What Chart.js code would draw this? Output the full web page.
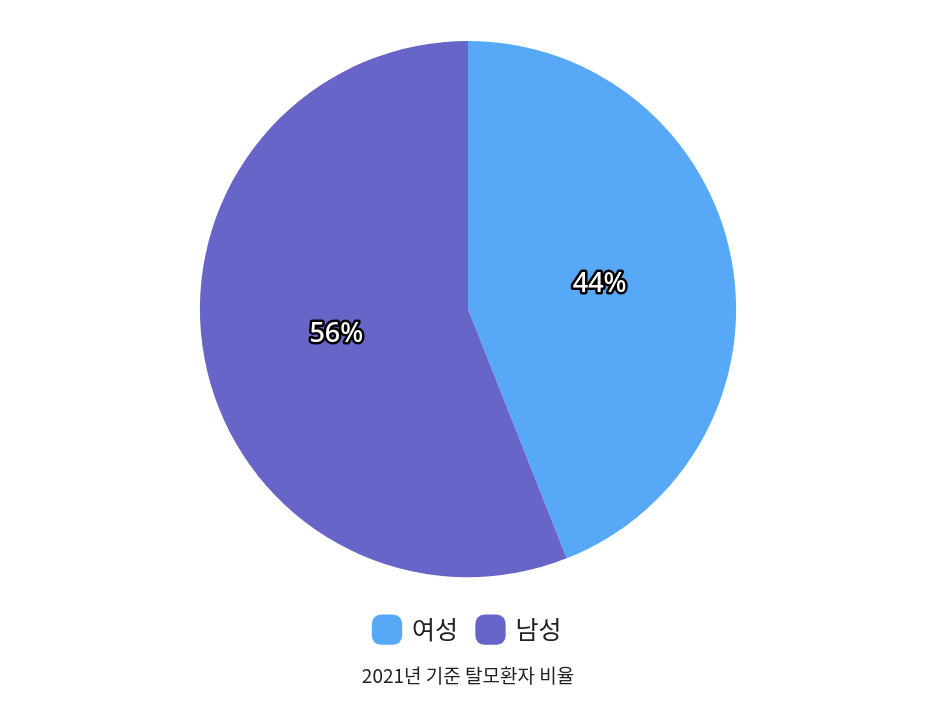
<!DOCTYPE html>
<html>
<head>
<meta charset="utf-8">
<script src="https://cdn.jsdelivr.net/npm/chart.js@4/dist/chart.umd.min.js"></script>
<style>
  html, body { margin: 0; padding: 0; background: #fff; }
  #wrap { width: 936px; height: 721px; }
</style>
</head>
<body>
<div id="wrap"><canvas id="hairChart"></canvas></div>
<script>
var labels = ['여성', '남성'];
var values = [44, 56];
var colors = ['#58A8F8', '#6865C9'];
var titleText = '2021년 기준 탈모환자 비율';

Chart.defaults.font.family = "'Noto Sans CJK KR', 'Noto Sans', sans-serif";

// draw percent text in the middle of each slice, white with dark outline
var sliceLabels = {
    id: 'sliceLabels',
    afterDatasetsDraw: function (chart) {
        var ctx = chart.ctx;
        var meta = chart.getDatasetMeta(0);
        var total = values.reduce(function (a, b) { return a + b; }, 0);
        ctx.save();
        ctx.font = "500 27px 'Noto Sans', 'DejaVu Sans', sans-serif";
        ctx.textAlign = 'center';
        ctx.textBaseline = 'middle';
        ctx.lineJoin = 'round';
        meta.data.forEach(function (arc, i) {
            var p = arc.tooltipPosition();
            var txt = Math.round(values[i] / total * 100) + '%';
            ctx.lineWidth = 5;
            ctx.strokeStyle = '#000';
            ctx.strokeText(txt, p.x, p.y);
            ctx.fillStyle = '#fff';
            ctx.fillText(txt, p.x, p.y);
        });
        ctx.restore();
    }
};

var hairChart = new Chart(document.getElementById('hairChart'), {
    type: 'pie',
    data: {
        labels: labels,
        datasets: [{
            data: values,
            backgroundColor: colors,
            borderWidth: 0
        }]
    },
    options: {
        responsive: true,
        maintainAspectRatio: false,
        animation: false,
        layout: { padding: { top: 41, bottom: 13 } },
        plugins: {
            // empty subtitle used only as a gap between the pie and the legend
            subtitle: {
                display: true,
                text: ' ',
                position: 'bottom',
                weight: 500,
                font: { size: 10, lineHeight: 1 },
                padding: { top: 5, bottom: 5 }
            },
            legend: {
                position: 'bottom',
                labels: {
                    usePointStyle: true,
                    pointStyle: 'rectRounded',
                    boxWidth: 27,
                    boxHeight: 27,
                    padding: 20,
                    color: '#222',
                    font: { size: 25 }
                }
            },
            title: {
                display: true,
                text: titleText,
                position: 'bottom',
                color: '#222',
                font: { size: 19, weight: 'normal' },
                padding: { top: 12, bottom: 21 }
            },
            tooltip: { enabled: false }
        }
    },
    plugins: [sliceLabels]
});
</script>
</body>
</html>
